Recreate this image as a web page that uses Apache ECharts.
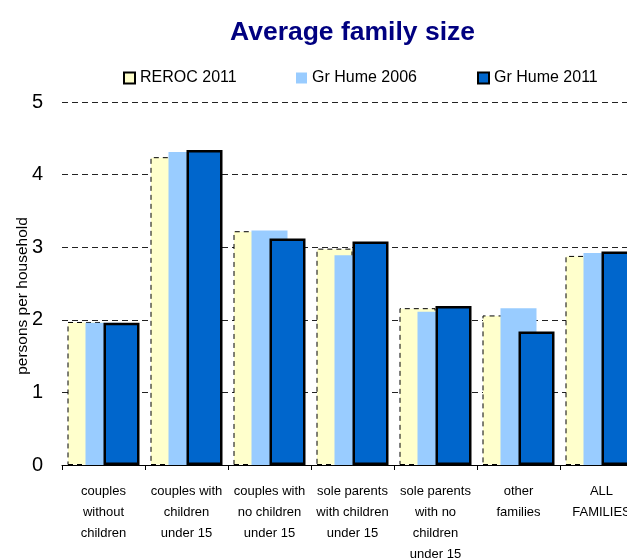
<!DOCTYPE html>
<html><head><meta charset="utf-8">
<script src="https://cdn.jsdelivr.net/npm/echarts@6/dist/echarts.min.js"></script>
<style>html,body{margin:0;padding:0;background:#fff;overflow:hidden;width:627px;height:560px}#c{width:680px;height:560px}</style>
</head><body><div id="c"></div>
<script>
const categories = ['couples\nwithout\nchildren','couples with\nchildren\nunder 15','couples with\nno children\nunder 15','sole parents\nwith children\nunder 15','sole parents\nwith no\nchildren\nunder 15','other\nfamilies','ALL\nFAMILIES'];
const reroc2011 = [1.97, 4.24, 3.22, 2.98, 2.16, 2.06, 2.88];
const hume2006 = [1.96, 4.31, 3.23, 2.89, 2.11, 2.16, 2.92];
const hume2011 = [1.96, 4.34, 3.12, 3.08, 2.19, 1.84, 2.94];
const yTicks = [0, 1, 2, 3, 4, 5];

const chart = echarts.init(document.getElementById('c'));
const font = 'Liberation Sans, Arial, sans-serif';
const legendText = {fontSize: 16, color: '#000', fontFamily: font};
chart.setOption({
  animation: false,
  textStyle: {fontFamily: font},
  title: {text: 'Average family size', left: 225, top: 14,
    textStyle: {fontSize: 26.5, fontWeight: 'bold', color: '#000080', fontFamily: font}},
  legend: [
    {data: ['REROC 2011'], left: 118, top: 65, itemWidth: 11, itemHeight: 11, textStyle: legendText, icon: 'rect'},
    {data: ['Gr Hume 2006'], left: 291, top: 65, itemWidth: 11, itemHeight: 11, textStyle: legendText, icon: 'rect'},
    {data: ['Gr Hume 2011'], left: 472, top: 65, itemWidth: 11, itemHeight: 11, textStyle: legendText, icon: 'rect'}
  ],
  grid: {left: 62, right: 37, top: 102, bottom: 95, outerBoundsMode: 'none', containLabel: false},
  xAxis: {
    type: 'category', data: categories,
    axisLine: {lineStyle: {color: '#000', width: 1}},
    axisTick: {show: true, length: 5, interval: 0, lineStyle: {color: '#000'}},
    axisLabel: {interval: 0, fontSize: 13, lineHeight: 21, color: '#000', margin: 16, fontFamily: font}
  },
  yAxis: {
    type: 'value', min: yTicks[0], max: yTicks[yTicks.length - 1], interval: 1,
    name: 'persons per household', nameLocation: 'middle', nameGap: 31, nameRotate: 90,
    nameMoveOverlap: false,
    nameTextStyle: {fontSize: 15.5, color: '#000', fontFamily: font, padding: [0, 25, 0, 0]},
    axisLine: {show: false}, axisTick: {show: false},
    axisLabel: {fontSize: 20, color: '#000', margin: 19, fontFamily: font},
    splitLine: {lineStyle: {color: '#222', type: [6, 4], width: 1}}
  },
  series: [
    {name: 'REROC 2011', type: 'bar', data: reroc2011, barWidth: 36, barGap: '-50%',
      itemStyle: {color: '#FFFFCC', borderColor: '#000', borderWidth: 1, borderType: [5, 4]}},
    {name: 'Gr Hume 2006', type: 'bar', data: hume2006, barWidth: 36, barGap: '-50%',
      itemStyle: {color: '#99CCFF'}},
    {name: 'Gr Hume 2011', type: 'bar', data: hume2011, barWidth: 36, barGap: '-50%',
      itemStyle: {color: '#0066CC', borderColor: '#000', borderWidth: 2.5}}
  ]
});
</script></body></html>
